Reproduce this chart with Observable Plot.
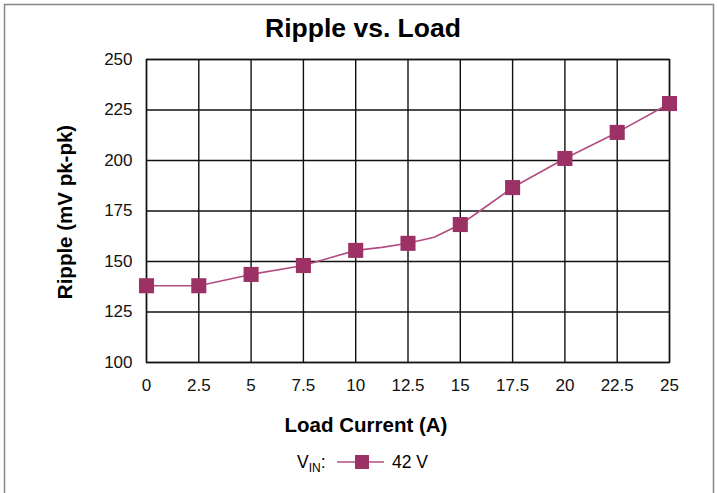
<!DOCTYPE html>
<html><head><meta charset="utf-8">
<script src="https://cdn.jsdelivr.net/npm/d3@7"></script>
<script src="https://cdn.jsdelivr.net/npm/@observablehq/plot@0.6"></script>
<style>
body{margin:0;background:#fff;}
svg{font-family:"Liberation Sans",Arial,sans-serif;}
</style>
</head><body>
<div id="chart"></div>
<script>
const title = "Ripple vs. Load";
const xLabel = "Load Current (A)";
const yLabel = "Ripple (mV pk-pk)";
const seriesName = "42 V";
const xTicks = [0, 2.5, 5, 7.5, 10, 12.5, 15, 17.5, 20, 22.5, 25];
const yTicks = [100, 125, 150, 175, 200, 225, 250];
const loadCurrent = [0, 2.5, 5, 7.5, 10, 12.5, 15, 17.5, 20, 22.5, 25];
const ripple = [138, 138, 143.6, 148, 155.5, 159, 168.3, 186.6, 201, 213.9, 228.2];
// line trace (includes intermediate vertices seen in the curve)
const lineX = [0, 2.5, 5, 7.5, 10, 11.25, 12.5, 13.75, 15, 16, 17.5, 20, 22.5, 25];
const lineY = [138, 138, 143.6, 148, 155.5, 157, 159, 162, 168.3, 175.5, 186.6, 201, 213.9, 228.2];

const markers = loadCurrent.map((x, i) => ({x, y: ripple[i]}));
const line = lineX.map((x, i) => ({x, y: lineY[i]}));

const W = 717, H = 493;
const mL = 146, mR = 48, mT = 59, mB = 131;
const lineColor = "#b24c82", markColor = "#9c3166";

const plot = Plot.plot({
  width: W, height: H,
  marginLeft: mL, marginRight: mR, marginTop: mT, marginBottom: mB,
  style: {fontFamily: "Liberation Sans, Arial, sans-serif", fontSize: "17px", color: "#111", background: "#fff"},
  x: {domain: [0, 25], ticks: xTicks, tickFormat: d => String(d), label: null},
  y: {domain: [100, 250], ticks: yTicks, tickFormat: d => String(d), label: null},
  marks: [
    Plot.gridX(xTicks, {stroke: "#111", strokeOpacity: 1, strokeWidth: 1.4}),
    Plot.gridY(yTicks, {stroke: "#111", strokeOpacity: 1, strokeWidth: 1.4}),
    Plot.frame({stroke: "#111", strokeWidth: 1.4}),
    Plot.axisX({ticks: xTicks, tickSize: 0, tickPadding: 16, tickFormat: d => String(d), label: null, fontSize: 17}),
    Plot.axisY({ticks: yTicks, tickSize: 0, tickPadding: 14, tickFormat: d => String(d), label: null, fontSize: 17}),
    Plot.line(line, {x: "x", y: "y", stroke: lineColor, strokeWidth: 1.6}),
    Plot.dot(markers, {x: "x", y: "y", symbol: "square", r: 8.5, fill: markColor, stroke: "none"})
  ]
});

const svg = d3.select(plot);
// border frame
svg.append("path").attr("d", `M4.5,${H} L4.5,4.5 L713.5,4.5 L713.5,${H}`)
  .attr("fill", "none").attr("stroke", "#888").attr("stroke-width", 1.5);
svg.append("text").attr("x", 363).attr("y", 37).attr("text-anchor", "middle")
  .attr("font-size", 26.5).attr("font-weight", "bold").attr("fill", "#000").text(title);
svg.append("text").attr("x", 366).attr("y", 432).attr("text-anchor", "middle")
  .attr("font-size", 20.5).attr("font-weight", "bold").attr("fill", "#000").text(xLabel);
svg.append("text").attr("transform", "translate(72,212) rotate(-90)").attr("text-anchor", "middle")
  .attr("font-size", 20.5).attr("font-weight", "bold").attr("fill", "#000").text(yLabel);
// legend
const lg = svg.append("g").attr("font-size", 17.5).attr("fill", "#000").attr("text-anchor", "start");
const t = lg.append("text").attr("x", 297).attr("y", 468);
t.append("tspan").text("V");
t.append("tspan").attr("font-size", 12).attr("dy", 4).text("IN");
t.append("tspan").attr("dy", -4).text(":");
lg.append("line").attr("x1", 337).attr("x2", 384).attr("y1", 462).attr("y2", 462)
  .attr("stroke", lineColor).attr("stroke-width", 1.6);
lg.append("rect").attr("x", 355).attr("y", 455).attr("width", 14).attr("height", 14).attr("fill", markColor);
lg.append("text").attr("x", 392).attr("y", 468).text(seriesName);

document.getElementById("chart").appendChild(plot);
</script>
</body></html>
